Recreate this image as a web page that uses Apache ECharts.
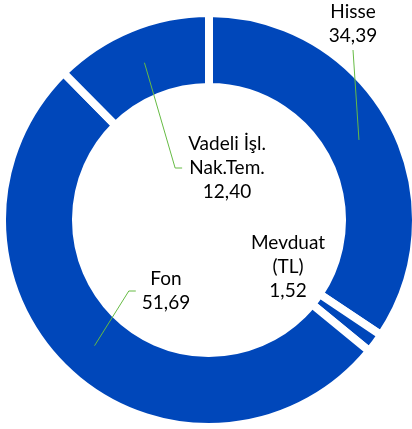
<!DOCTYPE html>
<html>
<head>
<meta charset="utf-8">
<script src="https://cdn.jsdelivr.net/npm/echarts@6/dist/echarts.min.js"></script>
<style>html,body{margin:0;padding:0;background:#fff}</style>
</head>
<body>
<div id="pieChart" style="width:412px;height:429px"></div>
<script>
// 数据 (顺时针, 从12点方向开始)
var categories = ['Hisse', 'Mevduat\n(TL)', 'Fon', 'Vadeli İşl.\nNak.Tem.'];
var values = [34.39, 1.52, 51.69, 12.40];

// 标签位置(px) 和 引导线的连接方式
var labelPos = [[353, 24], [288, 267], [166, 291], [227, 168]];
var lineMode = ['below', 'none', 'left', 'left'];

function fmt(v) { return v.toFixed(2).replace('.', ','); }

var ringData = categories.map(function (c, i) { return { name: c, value: values[i] }; });
var labelData = categories.map(function (c, i) {
	return { name: c, value: values[i], labelLine: { show: lineMode[i] !== 'none' } };
});

var myChart = echarts.init(document.getElementById('pieChart'));
myChart.setOption({
	animation: false,
	series: [
		{
			type: 'pie',
			z: 2,
			center: [209, 220],
			radius: [133, 207],
			startAngle: 90,
			silent: true,
			label: { show: false },
			labelLine: { show: false },
			itemStyle: { color: '#0047BA', borderColor: '#fff', borderWidth: 8 },
			data: ringData
		},
		{
			// 透明的饼, 只用来放标签和引导线 (引导线起点在环的中间)
			type: 'pie',
			z: 5,
			center: [209, 220],
			radius: [0, 170],
			startAngle: 90,
			silent: true,
			avoidLabelOverlap: false,
			itemStyle: { color: 'transparent' },
			label: {
				show: true,
				position: 'outside',
				formatter: function (p) { return p.name + '\n' + fmt(p.value); },
				fontFamily: 'Lato',
				fontSize: 19,
				lineHeight: 24,
				color: '#000',
				align: 'center'
			},
			labelLine: { show: true, lineStyle: { color: '#66BB44', width: 1 } },
			labelLayout: function (params) {
				var i = params.dataIndex;
				var pos = labelPos[i];
				var w = params.labelRect.width, h = params.labelRect.height;
				var out = { x: pos[0], y: pos[1], align: 'center', verticalAlign: 'middle' };
				var p0 = params.labelLinePoints ? params.labelLinePoints[0] : null;
				if (p0 && lineMode[i] === 'below') {
					var end = [pos[0], pos[1] + h / 2 + 2];
					out.labelLinePoints = [p0, end, end];
				} else if (p0 && lineMode[i] === 'left') {
					var ex = pos[0] - w / 2 - 6;
					out.labelLinePoints = [p0, [ex - 7, pos[1]], [ex, pos[1]]];
				}
				return out;
			},
			data: labelData
		}
	]
});
</script>
</body>
</html>
